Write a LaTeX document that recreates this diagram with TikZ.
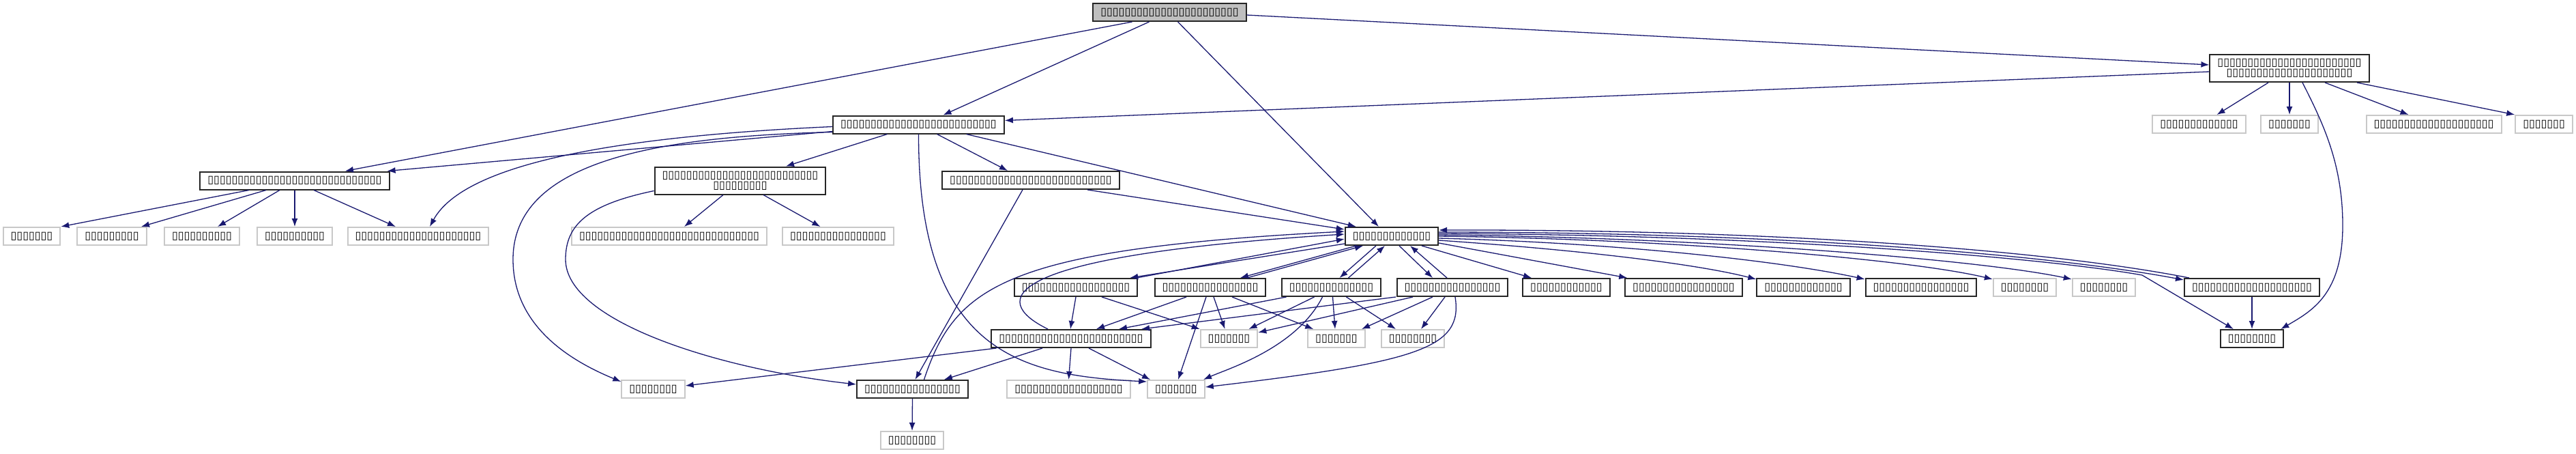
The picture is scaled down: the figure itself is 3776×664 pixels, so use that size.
\documentclass[tikz,border=0pt]{standalone}
\usepackage{fontspec}
\newfontfamily\tofu{DejaVu Sans}
\usetikzlibrary{arrows.meta,calc}
\definecolor{edgeblue}{HTML}{191970}
\definecolor{rootgrey}{HTML}{BFBFBF}
\definecolor{extgrey}{HTML}{C8C8C8}
\tikzset{
  file/.style={draw=black!85, line width=0.04cm, fill=white, inner xsep=0.22cm, inner ysep=0pt,
    minimum height=0.52cm, font=\tofu\fontsize{9.1}{8.5}\selectfont},
  extfile/.style={file, draw=extgrey},
  rootfile/.style={file, fill=rootgrey},
  twoline/.style={file, align=center, minimum height=0.8cm},
  inc/.style={draw=edgeblue, line width=0.026cm, -{Latex[length=0.24cm,width=0.18cm]}},
}
\begin{document}
\begin{tikzpicture}[x=0.02cm,y=-0.02cm]
\useasboundingbox (0,0) rectangle (3776,664);
% top
\node[rootfile] (rt) at (1714.5,18) {▯▯▯▯▯▯▯▯▯▯▯▯▯▯▯▯▯▯▯▯▯▯▯};
\node[twoline] (na) at (3356,100) {▯▯▯▯▯▯▯▯▯▯▯▯▯▯▯▯▯▯▯▯▯▯▯▯\\▯▯▯▯▯▯▯▯▯▯▯▯▯▯▯▯▯▯▯▯▯};
\node[file] (nb) at (1346.5,182.5) {▯▯▯▯▯▯▯▯▯▯▯▯▯▯▯▯▯▯▯▯▯▯▯▯▯▯};
\node[extfile] (g1) at (3223.5,182) {▯▯▯▯▯▯▯▯▯▯▯▯▯};
\node[extfile] (g2) at (3356,182) {▯▯▯▯▯▯▯};
\node[extfile] (g3) at (3567.5,182) {▯▯▯▯▯▯▯▯▯▯▯▯▯▯▯▯▯▯▯▯};
\node[extfile] (g4) at (3729,182) {▯▯▯▯▯▯▯};
% second level
\node[file] (nc) at (432,264.5) {▯▯▯▯▯▯▯▯▯▯▯▯▯▯▯▯▯▯▯▯▯▯▯▯▯▯▯▯▯};
\node[twoline] (nd) at (1085,264.5) {▯▯▯▯▯▯▯▯▯▯▯▯▯▯▯▯▯▯▯▯▯▯▯▯▯▯\\▯▯▯▯▯▯▯▯▯};
\node[file] (ne) at (1511,264) {▯▯▯▯▯▯▯▯▯▯▯▯▯▯▯▯▯▯▯▯▯▯▯▯▯▯▯};
\node[extfile] (c1) at (46.5,346) {▯▯▯▯▯▯▯};
\node[extfile] (c2) at (164,346) {▯▯▯▯▯▯▯▯▯};
\node[extfile] (c3) at (296,346) {▯▯▯▯▯▯▯▯▯▯};
\node[extfile] (c4) at (432,346) {▯▯▯▯▯▯▯▯▯▯};
\node[extfile] (c5) at (613,346) {▯▯▯▯▯▯▯▯▯▯▯▯▯▯▯▯▯▯▯▯▯};
\node[extfile] (d1) at (981,346) {▯▯▯▯▯▯▯▯▯▯▯▯▯▯▯▯▯▯▯▯▯▯▯▯▯▯▯▯▯▯};
\node[extfile] (d2) at (1228.5,346) {▯▯▯▯▯▯▯▯▯▯▯▯▯▯▯▯};
\node[file] (nf) at (2040,346) {▯▯▯▯▯▯▯▯▯▯▯▯▯};
% row under nf
\node[file] (r61) at (1577,421) {▯▯▯▯▯▯▯▯▯▯▯▯▯▯▯▯▯▯};
\node[file] (r62) at (1774,421) {▯▯▯▯▯▯▯▯▯▯▯▯▯▯▯▯};
\node[file] (r63) at (1951.5,421) {▯▯▯▯▯▯▯▯▯▯▯▯▯▯};
\node[file] (r64) at (2129,421) {▯▯▯▯▯▯▯▯▯▯▯▯▯▯▯▯};
\node[file] (r65) at (2296,421) {▯▯▯▯▯▯▯▯▯▯▯▯};
\node[file] (r66) at (2468,421) {▯▯▯▯▯▯▯▯▯▯▯▯▯▯▯▯▯};
\node[file] (r67) at (2643.5,421) {▯▯▯▯▯▯▯▯▯▯▯▯▯};
\node[file] (r6a) at (2816,421) {▯▯▯▯▯▯▯▯▯▯▯▯▯▯▯▯};
\node[extfile] (r6g1) at (2968,421) {▯▯▯▯▯▯▯▯};
\node[extfile] (r6g2) at (3084,421) {▯▯▯▯▯▯▯▯};
\node[file] (r6b) at (3301,421) {▯▯▯▯▯▯▯▯▯▯▯▯▯▯▯▯▯▯▯▯};
\node[file] (ng) at (1570,496) {▯▯▯▯▯▯▯▯▯▯▯▯▯▯▯▯▯▯▯▯▯▯▯▯};
\node[extfile] (r7g1) at (1801.5,496) {▯▯▯▯▯▯▯};
\node[extfile] (r7g2) at (1959,496) {▯▯▯▯▯▯▯};
\node[extfile] (r7g3) at (2071,496) {▯▯▯▯▯▯▯▯};
\node[file] (nk) at (3301,496) {▯▯▯▯▯▯▯▯};
\node[file] (nh) at (1337.5,570) {▯▯▯▯▯▯▯▯▯▯▯▯▯▯▯▯};
\node[extfile] (r8b) at (1566.5,570) {▯▯▯▯▯▯▯▯▯▯▯▯▯▯▯▯▯▯};
\node[extfile] (r8d) at (1724,570) {▯▯▯▯▯▯▯};
\node[extfile] (r8a) at (957.5,570) {▯▯▯▯▯▯▯▯};
\node[extfile] (r9) at (1337,645) {▯▯▯▯▯▯▯▯};

% edges from the root
\draw[inc] ($(rt.south)+(-55,0)$) -- ($(nc.north)+(74,0)$);
\draw[inc] ($(rt.south)+(-30,0)$) -- ($(nb.north)+(36,0)$);
\draw[inc] ($(rt.south)+(12,0)$) -- ($(nf.north)+(-19,0)$);
\draw[inc] ($(rt.east)+(0,4)$) -- ($(na.west)+(0,-5)$);
% na
\draw[inc] ($(na.west)+(0,5)$) -- ($(nb.east)+(0,-6)$);
\draw[inc] ($(na.south)+(-31,0)$) -- ($(g1.north)+(26,0)$);
\draw[inc] (na.south) -- (g2.north);
\draw[inc] ($(na.south)+(52,0)$) -- ($(g3.north)+(-37,0)$);
\draw[inc] ($(na.south)+(99,0)$) -- (g4.north west);
\draw[inc] ($(na.south)+(19,0)$) .. controls (3405,180) and (3434,240) .. (3434,330)
  .. controls (3434,430) and (3390,455) .. ($(nk.north east)+(-5,0)$);
% nb
\draw[inc] ($(nb.west)+(0,10)$) -- ($(nc.north east)+(-4,0)$);
\draw[inc] ($(nb.west)+(0,3)$) .. controls (900,200) and (680,240) .. ($(c5.north)+(17,0)$);
\draw[inc] ($(nb.west)+(0,11)$) .. controls (950,200) and (752,240) .. (752,380)
  .. controls (752,480) and (840,530) .. ($(r8a.north west)+(0,3)$);
\draw[inc] ($(nb.south)+(-46,0)$) -- ($(nd.north)+(67,0)$);
\draw[inc] ($(nb.south)+(27,0)$) -- ($(ne.north)+(-34,0)$);
\draw[inc] ($(nb.south)+(70,0)$) -- ($(nf.north west)+(17,0)$);
\draw[inc] (nb.south) .. controls (1346,520) and (1500,550) .. ($(r8d.north west)+(0,3)$);
% ne
\draw[inc] ($(ne.south)+(83,0)$) -- ($(nf.west)+(0,-10)$);
\draw[inc] ($(ne.south)+(-12,0)$) -- ($(nh.north)+(4,0)$);
% nc, nd
\draw[inc] ($(nc.south)+(-67,0)$) -- (c1.north east);
\draw[inc] ($(nc.south)+(-42,0)$) -- ($(c2.north)+(43,0)$);
\draw[inc] ($(nc.south)+(-22,0)$) -- ($(c3.north)+(23,0)$);
\draw[inc] (nc.south) -- (c4.north);
\draw[inc] ($(nc.south)+(28,0)$) -- ($(c5.north)+(-33,0)$);
\draw[inc] ($(nd.south)+(-25,0)$) -- ($(d1.north)+(22,0)$);
\draw[inc] ($(nd.south)+(34,0)$) -- ($(d2.north)+(-26,0)$);
\draw[inc] ($(nd.west)+(0,15)$) .. controls (860,300) and (829,330) .. (829,380)
  .. controls (829,470) and (1050,540) .. ($(nh.west)+(0,-7)$);
% nf and its row
\draw[inc] ($(nf.south west)+(0,-3)$) -- ($(r61.north east)+(-12,0)$);
\draw[inc] ($(r61.north east)+(-2,0)$) -- ($(nf.west)+(0,4)$);
\draw[inc] ($(nf.south)+(-52,0)$) -- ($(r62.north)+(44,0)$);
\draw[inc] ($(r62.north)+(54,0)$) -- ($(nf.south)+(-42,0)$);
\draw[inc] ($(nf.south)+(-23,0)$) -- ($(r63.north)+(12,0)$);
\draw[inc] ($(r63.north)+(25,0)$) -- ($(nf.south)+(-10,0)$);
\draw[inc] ($(nf.south)+(11,0)$) -- ($(r64.north)+(-29,0)$);
\draw[inc] ($(r64.north)+(-8,0)$) -- ($(nf.south)+(27,0)$);
\draw[inc] ($(nf.south)+(44,0)$) -- ($(r65.north)+(-51,0)$);
\draw[inc] ($(nf.south east)+(0,-4)$) -- ($(r66.north west)+(4,0)$);
\draw[inc] ($(nf.east)+(0,6)$) .. controls (2300,365) and (2480,385) .. ($(r67.north west)+(0,2)$);
\draw[inc] ($(nf.east)+(0,3)$) .. controls (2350,355) and (2600,380) .. ($(r6a.north west)+(0,2)$);
\draw[inc] ($(nf.east)+(0,0)$) .. controls (2450,350) and (2800,380) .. ($(r6g1.north west)+(0,2)$);
\draw[inc] ($(nf.east)+(0,-2)$) .. controls (2500,348) and (2900,380) .. ($(r6g2.north west)+(0,2)$);
\draw[inc] ($(nf.east)+(0,-6)$) .. controls (2600,340) and (3000,372) .. ($(r6b.north west)+(0,3)$);
\draw[inc] ($(r6b.north west)+(8,0)$) .. controls (3000,366) and (2600,336) .. ($(nf.east)+(0,-9)$);
\coordinate (kink) at (3140,403);
\draw[inc] ($(nf.east)+(0,-4)$) .. controls (2600,344) and (3000,378) .. (kink) -- ($(nk.north west)+(20,0)$);
\draw[inc] (r6b.south) -- (nk.north);
% back into nf
\draw[inc] ($(ng.north)+(-34,0)$) .. controls (1450,440) and (1460,375) .. ($(nf.west)+(0,-3)$);
\draw[inc] ($(nh.north)+(17,0)$) .. controls (1400,420) and (1470,365) .. ($(nf.west)+(0,-7)$);
% ng, nh
\draw[inc] ($(ng.south)+(-42,0)$) -- ($(nh.north east)+(-36,0)$);
\draw[inc] (ng.south) -- (r8b.north);
\draw[inc] ($(ng.south)+(26,0)$) -- ($(r8d.north)+(-38,0)$);
\draw[inc] ($(ng.south west)+(8,0)$) -- ($(r8a.east)+(0,-5)$);
\draw[inc] (nh.south) -- (r9.north);
% row under nf down to row 7
\draw[inc] (r61.south) -- ($(ng.north)+(-1,0)$);
\draw[inc] ($(r61.south)+(38,0)$) -- (r7g1.north west);
\draw[inc] ($(r62.south)+(-35,0)$) -- ($(ng.north)+(37,0)$);
\draw[inc] ($(r62.south)+(-6,0)$) -- ($(r8d.north)+(3,0)$);
\draw[inc] ($(r62.south)+(5,0)$) -- ($(r7g1.north)+(-6,0)$);
\draw[inc] ($(r62.south)+(32,0)$) -- ($(r7g2.north west)+(9,0)$);
\draw[inc] ($(r63.south)+(-66,0)$) -- ($(ng.north)+(70,0)$);
\draw[inc] ($(r63.south)+(-25,0)$) -- ($(r7g1.north)+(29,0)$);
\draw[inc] ($(r63.south)+(-13,0)$) .. controls (1900,510) and (1800,540) .. ($(r8d.north)+(40,0)$);
\draw[inc] ($(r63.south)+(2,0)$) -- ($(r7g2.north)+(-2,0)$);
\draw[inc] ($(r63.south)+(22,0)$) -- ($(r7g3.north)+(-25,0)$);
\draw[inc] ($(r64.south)+(-83,0)$) -- ($(ng.north)+(103,0)$);
\draw[inc] ($(r64.south)+(-58,0)$) -- ($(r7g1.east)+(0,-9)$);
\draw[inc] ($(r64.south)+(-29,0)$) -- ($(r7g2.north)+(37,0)$);
\draw[inc] ($(r64.south)+(-11,0)$) -- ($(r7g3.north)+(12,0)$);
\draw[inc] ($(r64.south)+(4,0)$) .. controls (2145,510) and (2080,530) .. ($(r8d.east)+(0,-3)$);
\end{tikzpicture}
\end{document}
